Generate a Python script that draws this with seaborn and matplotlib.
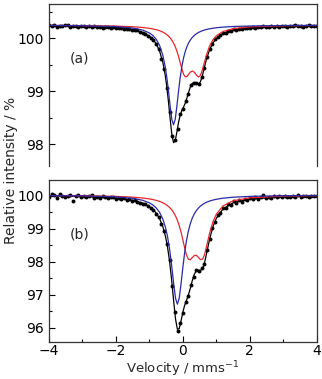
import numpy as np
import pandas as pd
import seaborn as sns
import matplotlib.pyplot as plt
from matplotlib.ticker import MultipleLocator

## Data
# velocity channels, mm/s
velocity = np.linspace(-4, 4, 101)

# (a) measured points
counts_a = [100.25, 100.23, 100.25, 100.22, 100.24, 100.23, 100.26, 100.25, 100.22, 100.24,
            100.23, 100.22, 100.24, 100.23, 100.21, 100.23, 100.22, 100.24, 100.21, 100.22,
            100.20, 100.22, 100.21, 100.19, 100.21, 100.20, 100.19, 100.20, 100.18, 100.17,
            100.18, 100.16, 100.15, 100.15, 100.12, 100.10, 100.09, 100.05, 100.01, 99.97,
            99.89, 99.80, 99.62, 99.42, 99.07, 98.62, 98.15, 98.08, 98.29, 98.57,
            98.67, 98.81, 98.95, 99.12, 99.16, 99.16, 99.14, 99.27, 99.44, 99.65,
            99.80, 99.89, 99.98, 100.03, 100.06, 100.10, 100.11, 100.14, 100.14, 100.17,
            100.16, 100.18, 100.17, 100.19, 100.20, 100.19, 100.21, 100.20, 100.22, 100.21,
            100.23, 100.21, 100.22, 100.23, 100.21, 100.23, 100.22, 100.24, 100.23, 100.22,
            100.24, 100.23, 100.25, 100.23, 100.24, 100.22, 100.24, 100.25, 100.23, 100.24,
            100.24]

# (b) measured points
counts_b = [99.96, 100.07, 100.03, 99.94, 100.05, 100.01, 99.97, 99.99, 100.02, 99.83,
            99.98, 100.03, 99.96, 100.01, 99.95, 99.99, 100.02, 99.94, 99.97, 99.93,
            99.98, 99.95, 99.92, 99.96, 99.95, 99.91, 99.94, 99.89, 99.92, 99.88,
            99.90, 99.85, 99.86, 99.81, 99.79, 99.76, 99.75, 99.68, 99.63, 99.58,
            99.46, 99.36, 99.14, 98.93, 98.53, 98.05, 97.25, 96.48, 95.90, 96.13,
            96.45, 96.78, 96.95, 97.29, 97.53, 97.75, 97.72, 97.80, 97.93, 98.35,
            98.68, 99.03, 99.20, 99.41, 99.47, 99.64, 99.62, 99.74, 99.72, 99.83,
            99.79, 99.86, 99.81, 99.90, 99.86, 99.93, 99.89, 99.95, 99.90, 99.96,
            100.04, 99.92, 99.97, 99.94, 100.00, 99.95, 99.99, 99.96, 100.01, 99.97,
            99.95, 100.00, 99.97, 100.02, 99.96, 99.99, 100.01, 99.97, 100.00, 99.98,
            99.99]

# (a) fitted curves
fit_v_a = [-4, -3, -2, -1.5, -1.2, -1.0, -0.9, -0.8, -0.7, -0.6, -0.53, -0.48, -0.43, -0.38,
           -0.33, -0.28, -0.23, -0.18, -0.13, -0.08, -0.03, 0.02, 0.07, 0.12, 0.17, 0.22,
           0.28, 0.34, 0.40, 0.46, 0.52, 0.58, 0.64, 0.70, 0.80, 0.90, 1.0, 1.2, 1.5, 2, 3, 4]
singlet_a = [100.245, 100.239, 100.222, 100.196, 100.157, 100.103, 100.057, 99.986, 99.874,
             99.684, 99.472, 99.264, 99.005, 98.718, 98.471, 98.370, 98.471, 98.718, 99.005,
             99.264, 99.472, 99.632, 99.752, 99.844, 99.914, 99.968, 100.018, 100.057,
             100.086, 100.110, 100.129, 100.144, 100.157, 100.168, 100.182, 100.192, 100.201,
             100.213, 100.224, 100.234, 100.242, 100.246]
doublet_a = [100.245, 100.241, 100.232, 100.220, 100.206, 100.190, 100.179, 100.165, 100.146,
             100.119, 100.094, 100.071, 100.044, 100.010, 99.967, 99.913, 99.846, 99.762,
             99.660, 99.542, 99.422, 99.324, 99.275, 99.281, 99.320, 99.363, 99.384, 99.363,
             99.311, 99.273, 99.298, 99.400, 99.542, 99.681, 99.861, 99.976, 100.050,
             100.131, 100.184, 100.218, 100.237, 100.243]
total_a = [100.239, 100.230, 100.204, 100.166, 100.113, 100.043, 99.986, 99.901, 99.770,
           99.553, 99.316, 99.085, 98.799, 98.478, 98.188, 98.033, 98.067, 98.230, 98.415,
           98.556, 98.644, 98.706, 98.777, 98.875, 98.984, 99.081, 99.152, 99.170, 99.147,
           99.133, 99.177, 99.294, 99.449, 99.599, 99.792, 99.918, 100.001, 100.094,
           100.158, 100.202, 100.230, 100.239]

# (b) fitted curves
fit_v_b = [-4, -3, -2, -1.5, -1.2, -1.0, -0.9, -0.8, -0.7, -0.6, -0.52, -0.46, -0.40, -0.34,
           -0.28, -0.22, -0.165, -0.11, -0.05, 0.0, 0.05, 0.10, 0.16, 0.22, 0.28, 0.34, 0.40,
           0.46, 0.52, 0.59, 0.65, 0.72, 0.80, 0.90, 1.0, 1.2, 1.5, 2, 3, 4]
singlet_b = [100.008, 99.998, 99.969, 99.925, 99.864, 99.787, 99.725, 99.636, 99.504, 99.297,
             99.041, 98.769, 98.400, 97.924, 97.372, 96.889, 96.710, 96.889, 97.372, 97.835,
             98.254, 98.598, 98.915, 99.149, 99.322, 99.451, 99.550, 99.625, 99.685, 99.739,
             99.776, 99.811, 99.842, 99.872, 99.896, 99.929, 99.958, 99.983, 100.003, 100.010]
doublet_b = [100.009, 100.002, 99.983, 99.960, 99.934, 99.907, 99.888, 99.863, 99.832, 99.790,
             99.745, 99.702, 99.649, 99.583, 99.498, 99.388, 99.259, 99.097, 98.875, 98.659,
             98.431, 98.228, 98.077, 98.058, 98.123, 98.187, 98.193, 98.136, 98.065, 98.077,
             98.228, 98.522, 98.875, 99.218, 99.446, 99.694, 99.849, 99.940, 99.990, 100.004]
total_b = [99.997, 99.980, 99.932, 99.865, 99.779, 99.673, 99.592, 99.479, 99.316, 99.066,
           98.766, 98.451, 98.030, 97.486, 96.850, 96.257, 95.949, 95.966, 96.227, 96.474,
           96.665, 96.806, 96.972, 97.187, 97.425, 97.619, 97.722, 97.741, 97.730, 97.796,
           97.984, 98.312, 98.697, 99.071, 99.322, 99.603, 99.787, 99.903, 99.972, 99.994]

panels = [
    ("(a)", counts_a, fit_v_a, singlet_a, doublet_a, total_a, (97.60, 100.65), [98, 99, 100]),
    ("(b)", counts_b, fit_v_b, singlet_b, doublet_b, total_b, (95.57, 100.48), [96, 97, 98, 99, 100]),
]

sns.set_theme(style="ticks")
plt.rcParams['font.family'] = ['DejaVu Sans']

fig = plt.figure(figsize=(3.22, 3.79), dpi=100)
ax_a = fig.add_axes([0.152, 0.563, 0.832, 0.4266])
ax_b = fig.add_axes([0.152, 0.0984, 0.832, 0.4266])

for ax, (tag, counts, fv, singlet, doublet, total, ylim, yt) in zip([ax_a, ax_b], panels):
    sns.scatterplot(x=velocity, y=counts, ax=ax, color="black", s=8, linewidth=0, zorder=2)
    sns.lineplot(x=fv, y=total, ax=ax, color="black", linewidth=0.9, estimator=None, zorder=3)
    sns.lineplot(x=fv, y=doublet, ax=ax, color="#e8262c", linewidth=0.9, estimator=None, zorder=4)
    sns.lineplot(x=fv, y=singlet, ax=ax, color="#2a2aa6", linewidth=0.9, estimator=None, zorder=5)
    ax.set_xlim(-4, 4)
    ax.set_ylim(*ylim)
    ax.set_yticks(yt)
    ax.yaxis.set_minor_locator(MultipleLocator(0.5))
    ax.xaxis.set_major_locator(MultipleLocator(2))
    ax.xaxis.set_minor_locator(MultipleLocator(1))
    ax.tick_params(which="both", direction="in", labelsize=10, colors="black", width=0.8)
    ax.tick_params(which="major", length=4)
    ax.tick_params(which="minor", length=2.5)
    for sp in ax.spines.values():
        sp.set_visible(True)
        sp.set_color("#333333")
        sp.set_linewidth(0.9)
    ax.set_xlabel("")
    ax.set_ylabel("")
    ax.text(0.078, 0.66, tag, transform=ax.transAxes, fontsize=10, va="center", ha="left")

ax_a.spines["bottom"].set_visible(False)
ax_a.tick_params(axis="x", which="both", bottom=False, labelbottom=False)
ax_b.tick_params(axis="x", pad=2)

fig.text(183 / 322, 1 - 369 / 379, "Velocity / mms$^{-1}$", fontsize=9.5,
         ha="center", va="center")
fig.text(0.035, 1 - 170 / 379, "Relative intensity / %", rotation=90, fontsize=10,
         ha="center", va="center")

fig.savefig("out.png", dpi=100)
